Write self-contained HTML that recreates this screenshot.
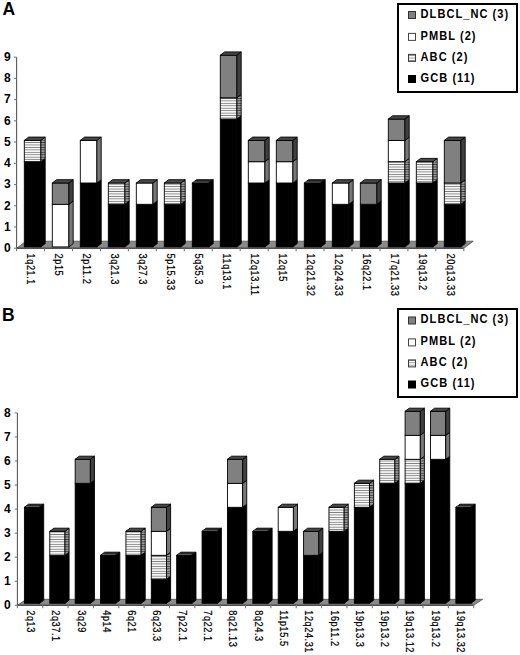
<!DOCTYPE html>
<html><head><meta charset="utf-8"><style>
html,body{margin:0;padding:0;background:#fff;width:520px;height:655px;overflow:hidden}
svg{display:block}
text{font-family:"Liberation Sans",sans-serif;font-weight:bold;fill:#000}
.yl{font-size:12px;text-anchor:end}
.xl{font-size:10px;font-weight:normal;stroke:#000;stroke-width:0.22px;letter-spacing:0.6px}
.lg{font-size:12.3px;letter-spacing:1.15px}
.pl{font-size:17.5px}
</style></head><body>
<svg width="520" height="655" viewBox="0 0 520 655">
<defs>
<pattern id="st" patternUnits="userSpaceOnUse" width="4" height="2.45"><rect width="4" height="2.45" fill="#f6f6f6"/><rect width="4" height="0.8" fill="#7a7a7a"/></pattern>
<pattern id="sts" patternUnits="userSpaceOnUse" width="4" height="2.45"><rect width="4" height="2.45" fill="#999"/><rect width="4" height="0.8" fill="#3a3a3a"/></pattern>
<pattern id="stl" patternUnits="userSpaceOnUse" width="4" height="2.4"><rect width="4" height="2.4" fill="#fafafa"/><rect width="4" height="0.8" fill="#888"/></pattern>
</defs>
<rect width="520" height="655" fill="#fff"/>
<polygon points="16.6,248.2 463.8,248.2 473.3,241.2 26.1,241.2" fill="#8a8a8a" stroke="#444" stroke-width="0.7"/>
<line x1="16.6" y1="57.13" x2="16.6" y2="248.2" stroke="#5a5a5a" stroke-width="1.1"/>
<line x1="14" y1="248.2" x2="16.6" y2="248.2" stroke="#777" stroke-width="1.1"/>
<text x="10.6" y="252" class="yl">0</text>
<line x1="14" y1="226.97" x2="16.6" y2="226.97" stroke="#777" stroke-width="1.1"/>
<text x="10.6" y="230.77" class="yl">1</text>
<line x1="14" y1="205.74" x2="16.6" y2="205.74" stroke="#777" stroke-width="1.1"/>
<text x="10.6" y="209.54" class="yl">2</text>
<line x1="14" y1="184.51" x2="16.6" y2="184.51" stroke="#777" stroke-width="1.1"/>
<text x="10.6" y="188.31" class="yl">3</text>
<line x1="14" y1="163.28" x2="16.6" y2="163.28" stroke="#777" stroke-width="1.1"/>
<text x="10.6" y="167.08" class="yl">4</text>
<line x1="14" y1="142.05" x2="16.6" y2="142.05" stroke="#777" stroke-width="1.1"/>
<text x="10.6" y="145.85" class="yl">5</text>
<line x1="14" y1="120.82" x2="16.6" y2="120.82" stroke="#777" stroke-width="1.1"/>
<text x="10.6" y="124.62" class="yl">6</text>
<line x1="14" y1="99.59" x2="16.6" y2="99.59" stroke="#777" stroke-width="1.1"/>
<text x="10.6" y="103.39" class="yl">7</text>
<line x1="14" y1="78.36" x2="16.6" y2="78.36" stroke="#777" stroke-width="1.1"/>
<text x="10.6" y="82.16" class="yl">8</text>
<line x1="14" y1="57.13" x2="16.6" y2="57.13" stroke="#777" stroke-width="1.1"/>
<text x="10.6" y="60.93" class="yl">9</text>
<line x1="16.6" y1="248.2" x2="463.8" y2="248.2" stroke="#3a3a3a" stroke-width="1.1"/>
<line x1="16.6" y1="248.2" x2="16.6" y2="251.2" stroke="#777" stroke-width="1.1"/>
<line x1="44.55" y1="248.2" x2="44.55" y2="251.2" stroke="#777" stroke-width="1.1"/>
<line x1="72.5" y1="248.2" x2="72.5" y2="251.2" stroke="#777" stroke-width="1.1"/>
<line x1="100.45" y1="248.2" x2="100.45" y2="251.2" stroke="#777" stroke-width="1.1"/>
<line x1="128.4" y1="248.2" x2="128.4" y2="251.2" stroke="#777" stroke-width="1.1"/>
<line x1="156.35" y1="248.2" x2="156.35" y2="251.2" stroke="#777" stroke-width="1.1"/>
<line x1="184.3" y1="248.2" x2="184.3" y2="251.2" stroke="#777" stroke-width="1.1"/>
<line x1="212.25" y1="248.2" x2="212.25" y2="251.2" stroke="#777" stroke-width="1.1"/>
<line x1="240.2" y1="248.2" x2="240.2" y2="251.2" stroke="#777" stroke-width="1.1"/>
<line x1="268.15" y1="248.2" x2="268.15" y2="251.2" stroke="#777" stroke-width="1.1"/>
<line x1="296.1" y1="248.2" x2="296.1" y2="251.2" stroke="#777" stroke-width="1.1"/>
<line x1="324.05" y1="248.2" x2="324.05" y2="251.2" stroke="#777" stroke-width="1.1"/>
<line x1="352" y1="248.2" x2="352" y2="251.2" stroke="#777" stroke-width="1.1"/>
<line x1="379.95" y1="248.2" x2="379.95" y2="251.2" stroke="#777" stroke-width="1.1"/>
<line x1="407.9" y1="248.2" x2="407.9" y2="251.2" stroke="#777" stroke-width="1.1"/>
<line x1="435.85" y1="248.2" x2="435.85" y2="251.2" stroke="#777" stroke-width="1.1"/>
<line x1="463.8" y1="248.2" x2="463.8" y2="251.2" stroke="#777" stroke-width="1.1"/>
<rect x="24.3" y="161.7" width="16.6" height="85.2" fill="#000" stroke="#000" stroke-width="0.9"/>
<polygon points="40.9,246.9 45.2,243.6 45.2,158.4 40.9,161.7" fill="#000" stroke="#000" stroke-width="0.9"/>
<rect x="24.3" y="140.4" width="16.6" height="21.3" fill="url(#st)" stroke="#000" stroke-width="0.9"/>
<polygon points="40.9,161.7 45.2,158.4 45.2,137.1 40.9,140.4" fill="url(#sts)" stroke="#000" stroke-width="0.9"/>
<polygon points="24.3,140.4 28.6,137.1 45.2,137.1 40.9,140.4" fill="#4a4a4a" stroke="#000" stroke-width="0.9"/>
<text transform="translate(27.48,253.6) rotate(90) scale(0.92,1)" class="xl">1q21.1</text>
<rect x="52.3" y="204.3" width="16.6" height="42.6" fill="#fff" stroke="#000" stroke-width="0.9"/>
<polygon points="68.9,246.9 73.2,243.6 73.2,201 68.9,204.3" fill="#787878" stroke="#000" stroke-width="0.9"/>
<rect x="52.3" y="183" width="16.6" height="21.3" fill="#808080" stroke="#000" stroke-width="0.9"/>
<polygon points="68.9,204.3 73.2,201 73.2,179.7 68.9,183" fill="#404040" stroke="#000" stroke-width="0.9"/>
<polygon points="52.3,183 56.6,179.7 73.2,179.7 68.9,183" fill="#484848" stroke="#000" stroke-width="0.9"/>
<text transform="translate(55.42,253.6) rotate(90) scale(0.92,1)" class="xl">2p15</text>
<rect x="80.3" y="183" width="16.6" height="63.9" fill="#000" stroke="#000" stroke-width="0.9"/>
<polygon points="96.9,246.9 101.2,243.6 101.2,179.7 96.9,183" fill="#000" stroke="#000" stroke-width="0.9"/>
<rect x="80.3" y="140.4" width="16.6" height="42.6" fill="#fff" stroke="#000" stroke-width="0.9"/>
<polygon points="96.9,183 101.2,179.7 101.2,137.1 96.9,140.4" fill="#787878" stroke="#000" stroke-width="0.9"/>
<polygon points="80.3,140.4 84.6,137.1 101.2,137.1 96.9,140.4" fill="#4a4a4a" stroke="#000" stroke-width="0.9"/>
<text transform="translate(83.38,253.6) rotate(90) scale(0.92,1)" class="xl">2p11.2</text>
<rect x="108.3" y="204.3" width="16.6" height="42.6" fill="#000" stroke="#000" stroke-width="0.9"/>
<polygon points="124.9,246.9 129.2,243.6 129.2,201 124.9,204.3" fill="#000" stroke="#000" stroke-width="0.9"/>
<rect x="108.3" y="183" width="16.6" height="21.3" fill="url(#st)" stroke="#000" stroke-width="0.9"/>
<polygon points="124.9,204.3 129.2,201 129.2,179.7 124.9,183" fill="url(#sts)" stroke="#000" stroke-width="0.9"/>
<polygon points="108.3,183 112.6,179.7 129.2,179.7 124.9,183" fill="#4a4a4a" stroke="#000" stroke-width="0.9"/>
<text transform="translate(111.33,253.6) rotate(90) scale(0.92,1)" class="xl">3q21.3</text>
<rect x="136.3" y="204.3" width="16.6" height="42.6" fill="#000" stroke="#000" stroke-width="0.9"/>
<polygon points="152.9,246.9 157.2,243.6 157.2,201 152.9,204.3" fill="#000" stroke="#000" stroke-width="0.9"/>
<rect x="136.3" y="183" width="16.6" height="21.3" fill="#fff" stroke="#000" stroke-width="0.9"/>
<polygon points="152.9,204.3 157.2,201 157.2,179.7 152.9,183" fill="#787878" stroke="#000" stroke-width="0.9"/>
<polygon points="136.3,183 140.6,179.7 157.2,179.7 152.9,183" fill="#4a4a4a" stroke="#000" stroke-width="0.9"/>
<text transform="translate(139.28,253.6) rotate(90) scale(0.92,1)" class="xl">3q27.3</text>
<rect x="164.3" y="204.3" width="16.6" height="42.6" fill="#000" stroke="#000" stroke-width="0.9"/>
<polygon points="180.9,246.9 185.2,243.6 185.2,201 180.9,204.3" fill="#000" stroke="#000" stroke-width="0.9"/>
<rect x="164.3" y="183" width="16.6" height="21.3" fill="url(#st)" stroke="#000" stroke-width="0.9"/>
<polygon points="180.9,204.3 185.2,201 185.2,179.7 180.9,183" fill="url(#sts)" stroke="#000" stroke-width="0.9"/>
<polygon points="164.3,183 168.6,179.7 185.2,179.7 180.9,183" fill="#4a4a4a" stroke="#000" stroke-width="0.9"/>
<text transform="translate(167.22,253.6) rotate(90) scale(0.92,1)" class="xl">5p15.33</text>
<rect x="192.3" y="183" width="16.6" height="63.9" fill="#000" stroke="#000" stroke-width="0.9"/>
<polygon points="208.9,246.9 213.2,243.6 213.2,179.7 208.9,183" fill="#000" stroke="#000" stroke-width="0.9"/>
<polygon points="192.3,183 196.6,179.7 213.2,179.7 208.9,183" fill="#262626" stroke="#000" stroke-width="0.9"/>
<line x1="193.5" y1="182.1" x2="208.6" y2="182.1" stroke="#6a6a6a" stroke-width="0.8"/>
<text transform="translate(195.17,253.6) rotate(90) scale(0.92,1)" class="xl">5q35.3</text>
<rect x="220.3" y="119.1" width="16.6" height="127.8" fill="#000" stroke="#000" stroke-width="0.9"/>
<polygon points="236.9,246.9 241.2,243.6 241.2,115.8 236.9,119.1" fill="#000" stroke="#000" stroke-width="0.9"/>
<rect x="220.3" y="97.8" width="16.6" height="21.3" fill="url(#st)" stroke="#000" stroke-width="0.9"/>
<polygon points="236.9,119.1 241.2,115.8 241.2,94.5 236.9,97.8" fill="url(#sts)" stroke="#000" stroke-width="0.9"/>
<rect x="220.3" y="55.2" width="16.6" height="42.6" fill="#808080" stroke="#000" stroke-width="0.9"/>
<polygon points="236.9,97.8 241.2,94.5 241.2,51.9 236.9,55.2" fill="#404040" stroke="#000" stroke-width="0.9"/>
<polygon points="220.3,55.2 224.6,51.9 241.2,51.9 236.9,55.2" fill="#484848" stroke="#000" stroke-width="0.9"/>
<text transform="translate(223.12,253.6) rotate(90) scale(0.92,1)" class="xl">11q13.1</text>
<rect x="248.3" y="183" width="16.6" height="63.9" fill="#000" stroke="#000" stroke-width="0.9"/>
<polygon points="264.9,246.9 269.2,243.6 269.2,179.7 264.9,183" fill="#000" stroke="#000" stroke-width="0.9"/>
<rect x="248.3" y="161.7" width="16.6" height="21.3" fill="#fff" stroke="#000" stroke-width="0.9"/>
<polygon points="264.9,183 269.2,179.7 269.2,158.4 264.9,161.7" fill="#787878" stroke="#000" stroke-width="0.9"/>
<rect x="248.3" y="140.4" width="16.6" height="21.3" fill="#808080" stroke="#000" stroke-width="0.9"/>
<polygon points="264.9,161.7 269.2,158.4 269.2,137.1 264.9,140.4" fill="#404040" stroke="#000" stroke-width="0.9"/>
<polygon points="248.3,140.4 252.6,137.1 269.2,137.1 264.9,140.4" fill="#484848" stroke="#000" stroke-width="0.9"/>
<text transform="translate(251.07,253.6) rotate(90) scale(0.92,1)" class="xl">12q13.11</text>
<rect x="276.3" y="183" width="16.6" height="63.9" fill="#000" stroke="#000" stroke-width="0.9"/>
<polygon points="292.9,246.9 297.2,243.6 297.2,179.7 292.9,183" fill="#000" stroke="#000" stroke-width="0.9"/>
<rect x="276.3" y="161.7" width="16.6" height="21.3" fill="#fff" stroke="#000" stroke-width="0.9"/>
<polygon points="292.9,183 297.2,179.7 297.2,158.4 292.9,161.7" fill="#787878" stroke="#000" stroke-width="0.9"/>
<rect x="276.3" y="140.4" width="16.6" height="21.3" fill="#808080" stroke="#000" stroke-width="0.9"/>
<polygon points="292.9,161.7 297.2,158.4 297.2,137.1 292.9,140.4" fill="#404040" stroke="#000" stroke-width="0.9"/>
<polygon points="276.3,140.4 280.6,137.1 297.2,137.1 292.9,140.4" fill="#484848" stroke="#000" stroke-width="0.9"/>
<text transform="translate(279.02,253.6) rotate(90) scale(0.92,1)" class="xl">12q15</text>
<rect x="304.3" y="183" width="16.6" height="63.9" fill="#000" stroke="#000" stroke-width="0.9"/>
<polygon points="320.9,246.9 325.2,243.6 325.2,179.7 320.9,183" fill="#000" stroke="#000" stroke-width="0.9"/>
<polygon points="304.3,183 308.6,179.7 325.2,179.7 320.9,183" fill="#262626" stroke="#000" stroke-width="0.9"/>
<line x1="305.5" y1="182.1" x2="320.6" y2="182.1" stroke="#6a6a6a" stroke-width="0.8"/>
<text transform="translate(306.97,253.6) rotate(90) scale(0.92,1)" class="xl">12q21.32</text>
<rect x="332.3" y="204.3" width="16.6" height="42.6" fill="#000" stroke="#000" stroke-width="0.9"/>
<polygon points="348.9,246.9 353.2,243.6 353.2,201 348.9,204.3" fill="#000" stroke="#000" stroke-width="0.9"/>
<rect x="332.3" y="183" width="16.6" height="21.3" fill="#fff" stroke="#000" stroke-width="0.9"/>
<polygon points="348.9,204.3 353.2,201 353.2,179.7 348.9,183" fill="#787878" stroke="#000" stroke-width="0.9"/>
<polygon points="332.3,183 336.6,179.7 353.2,179.7 348.9,183" fill="#4a4a4a" stroke="#000" stroke-width="0.9"/>
<text transform="translate(334.93,253.6) rotate(90) scale(0.92,1)" class="xl">12q24.33</text>
<rect x="360.3" y="204.3" width="16.6" height="42.6" fill="#000" stroke="#000" stroke-width="0.9"/>
<polygon points="376.9,246.9 381.2,243.6 381.2,201 376.9,204.3" fill="#000" stroke="#000" stroke-width="0.9"/>
<rect x="360.3" y="183" width="16.6" height="21.3" fill="#808080" stroke="#000" stroke-width="0.9"/>
<polygon points="376.9,204.3 381.2,201 381.2,179.7 376.9,183" fill="#404040" stroke="#000" stroke-width="0.9"/>
<polygon points="360.3,183 364.6,179.7 381.2,179.7 376.9,183" fill="#484848" stroke="#000" stroke-width="0.9"/>
<text transform="translate(362.88,253.6) rotate(90) scale(0.92,1)" class="xl">16q22.1</text>
<rect x="388.3" y="183" width="16.6" height="63.9" fill="#000" stroke="#000" stroke-width="0.9"/>
<polygon points="404.9,246.9 409.2,243.6 409.2,179.7 404.9,183" fill="#000" stroke="#000" stroke-width="0.9"/>
<rect x="388.3" y="161.7" width="16.6" height="21.3" fill="url(#st)" stroke="#000" stroke-width="0.9"/>
<polygon points="404.9,183 409.2,179.7 409.2,158.4 404.9,161.7" fill="url(#sts)" stroke="#000" stroke-width="0.9"/>
<rect x="388.3" y="140.4" width="16.6" height="21.3" fill="#fff" stroke="#000" stroke-width="0.9"/>
<polygon points="404.9,161.7 409.2,158.4 409.2,137.1 404.9,140.4" fill="#787878" stroke="#000" stroke-width="0.9"/>
<rect x="388.3" y="119.1" width="16.6" height="21.3" fill="#808080" stroke="#000" stroke-width="0.9"/>
<polygon points="404.9,140.4 409.2,137.1 409.2,115.8 404.9,119.1" fill="#404040" stroke="#000" stroke-width="0.9"/>
<polygon points="388.3,119.1 392.6,115.8 409.2,115.8 404.9,119.1" fill="#484848" stroke="#000" stroke-width="0.9"/>
<text transform="translate(390.82,253.6) rotate(90) scale(0.92,1)" class="xl">17q21.33</text>
<rect x="416.3" y="183" width="16.6" height="63.9" fill="#000" stroke="#000" stroke-width="0.9"/>
<polygon points="432.9,246.9 437.2,243.6 437.2,179.7 432.9,183" fill="#000" stroke="#000" stroke-width="0.9"/>
<rect x="416.3" y="161.7" width="16.6" height="21.3" fill="url(#st)" stroke="#000" stroke-width="0.9"/>
<polygon points="432.9,183 437.2,179.7 437.2,158.4 432.9,161.7" fill="url(#sts)" stroke="#000" stroke-width="0.9"/>
<polygon points="416.3,161.7 420.6,158.4 437.2,158.4 432.9,161.7" fill="#4a4a4a" stroke="#000" stroke-width="0.9"/>
<text transform="translate(418.77,253.6) rotate(90) scale(0.92,1)" class="xl">19q13.2</text>
<rect x="444.3" y="204.3" width="16.6" height="42.6" fill="#000" stroke="#000" stroke-width="0.9"/>
<polygon points="460.9,246.9 465.2,243.6 465.2,201 460.9,204.3" fill="#000" stroke="#000" stroke-width="0.9"/>
<rect x="444.3" y="183" width="16.6" height="21.3" fill="url(#st)" stroke="#000" stroke-width="0.9"/>
<polygon points="460.9,204.3 465.2,201 465.2,179.7 460.9,183" fill="url(#sts)" stroke="#000" stroke-width="0.9"/>
<rect x="444.3" y="140.4" width="16.6" height="42.6" fill="#808080" stroke="#000" stroke-width="0.9"/>
<polygon points="460.9,183 465.2,179.7 465.2,137.1 460.9,140.4" fill="#404040" stroke="#000" stroke-width="0.9"/>
<polygon points="444.3,140.4 448.6,137.1 465.2,137.1 460.9,140.4" fill="#484848" stroke="#000" stroke-width="0.9"/>
<text transform="translate(446.72,253.6) rotate(90) scale(0.92,1)" class="xl">20q13.33</text>
<rect x="398" y="4" width="119" height="88" fill="#fff" stroke="#000" stroke-width="2"/>
<rect x="408.5" y="11.5" width="7" height="7" fill="#808080" stroke="#333" stroke-width="1"/>
<text transform="translate(420.6,17.6) scale(0.9,1)" class="lg">DLBCL_NC (3)</text>
<rect x="408.5" y="33.4" width="7" height="7" fill="#fff" stroke="#444" stroke-width="1"/>
<text transform="translate(420.6,39.5) scale(0.9,1)" class="lg">PMBL (2)</text>
<rect x="408.5" y="54.4" width="7" height="7" fill="url(#stl)" stroke="#3a3a3a" stroke-width="1"/>
<text transform="translate(420.6,60.5) scale(0.9,1)" class="lg">ABC (2)</text>
<rect x="408.5" y="75.5" width="7" height="7" fill="#000" stroke="#000" stroke-width="1"/>
<text transform="translate(420.6,81.6) scale(0.9,1)" class="lg">GCB (11)</text>
<text x="2.5" y="14.7" class="pl">A</text>
<polygon points="17.4,605.3 473.7,605.3 482.7,599.3 26.4,599.3" fill="#8a8a8a" stroke="#444" stroke-width="0.7"/>
<line x1="17.4" y1="412.9" x2="17.4" y2="605.3" stroke="#5a5a5a" stroke-width="1.1"/>
<line x1="14.8" y1="605.3" x2="17.4" y2="605.3" stroke="#777" stroke-width="1.1"/>
<text x="10.6" y="609.1" class="yl">0</text>
<line x1="14.8" y1="581.25" x2="17.4" y2="581.25" stroke="#777" stroke-width="1.1"/>
<text x="10.6" y="585.05" class="yl">1</text>
<line x1="14.8" y1="557.2" x2="17.4" y2="557.2" stroke="#777" stroke-width="1.1"/>
<text x="10.6" y="561" class="yl">2</text>
<line x1="14.8" y1="533.15" x2="17.4" y2="533.15" stroke="#777" stroke-width="1.1"/>
<text x="10.6" y="536.95" class="yl">3</text>
<line x1="14.8" y1="509.1" x2="17.4" y2="509.1" stroke="#777" stroke-width="1.1"/>
<text x="10.6" y="512.9" class="yl">4</text>
<line x1="14.8" y1="485.05" x2="17.4" y2="485.05" stroke="#777" stroke-width="1.1"/>
<text x="10.6" y="488.85" class="yl">5</text>
<line x1="14.8" y1="461" x2="17.4" y2="461" stroke="#777" stroke-width="1.1"/>
<text x="10.6" y="464.8" class="yl">6</text>
<line x1="14.8" y1="436.95" x2="17.4" y2="436.95" stroke="#777" stroke-width="1.1"/>
<text x="10.6" y="440.75" class="yl">7</text>
<line x1="14.8" y1="412.9" x2="17.4" y2="412.9" stroke="#777" stroke-width="1.1"/>
<text x="10.6" y="416.7" class="yl">8</text>
<line x1="17.4" y1="605.3" x2="473.7" y2="605.3" stroke="#3a3a3a" stroke-width="1.1"/>
<line x1="17.4" y1="605.3" x2="17.4" y2="608.3" stroke="#777" stroke-width="1.1"/>
<line x1="42.75" y1="605.3" x2="42.75" y2="608.3" stroke="#777" stroke-width="1.1"/>
<line x1="68.1" y1="605.3" x2="68.1" y2="608.3" stroke="#777" stroke-width="1.1"/>
<line x1="93.45" y1="605.3" x2="93.45" y2="608.3" stroke="#777" stroke-width="1.1"/>
<line x1="118.8" y1="605.3" x2="118.8" y2="608.3" stroke="#777" stroke-width="1.1"/>
<line x1="144.15" y1="605.3" x2="144.15" y2="608.3" stroke="#777" stroke-width="1.1"/>
<line x1="169.5" y1="605.3" x2="169.5" y2="608.3" stroke="#777" stroke-width="1.1"/>
<line x1="194.85" y1="605.3" x2="194.85" y2="608.3" stroke="#777" stroke-width="1.1"/>
<line x1="220.2" y1="605.3" x2="220.2" y2="608.3" stroke="#777" stroke-width="1.1"/>
<line x1="245.55" y1="605.3" x2="245.55" y2="608.3" stroke="#777" stroke-width="1.1"/>
<line x1="270.9" y1="605.3" x2="270.9" y2="608.3" stroke="#777" stroke-width="1.1"/>
<line x1="296.25" y1="605.3" x2="296.25" y2="608.3" stroke="#777" stroke-width="1.1"/>
<line x1="321.6" y1="605.3" x2="321.6" y2="608.3" stroke="#777" stroke-width="1.1"/>
<line x1="346.95" y1="605.3" x2="346.95" y2="608.3" stroke="#777" stroke-width="1.1"/>
<line x1="372.3" y1="605.3" x2="372.3" y2="608.3" stroke="#777" stroke-width="1.1"/>
<line x1="397.65" y1="605.3" x2="397.65" y2="608.3" stroke="#777" stroke-width="1.1"/>
<line x1="423" y1="605.3" x2="423" y2="608.3" stroke="#777" stroke-width="1.1"/>
<line x1="448.35" y1="605.3" x2="448.35" y2="608.3" stroke="#777" stroke-width="1.1"/>
<line x1="473.7" y1="605.3" x2="473.7" y2="608.3" stroke="#777" stroke-width="1.1"/>
<rect x="24.4" y="507.3" width="15.2" height="96" fill="#000" stroke="#000" stroke-width="0.9"/>
<polygon points="39.6,603.3 43.7,600.2 43.7,504.2 39.6,507.3" fill="#000" stroke="#000" stroke-width="0.9"/>
<polygon points="24.4,507.3 28.5,504.2 43.7,504.2 39.6,507.3" fill="#262626" stroke="#000" stroke-width="0.9"/>
<line x1="25.6" y1="506.4" x2="39.3" y2="506.4" stroke="#6a6a6a" stroke-width="0.8"/>
<text transform="translate(26.95,610.3) rotate(90) scale(0.92,1)" class="xl">2q13</text>
<rect x="49.78" y="555.3" width="15.2" height="48" fill="#000" stroke="#000" stroke-width="0.9"/>
<polygon points="64.98,603.3 69.08,600.2 69.08,552.2 64.98,555.3" fill="#000" stroke="#000" stroke-width="0.9"/>
<rect x="49.78" y="531.3" width="15.2" height="24" fill="url(#st)" stroke="#000" stroke-width="0.9"/>
<polygon points="64.98,555.3 69.08,552.2 69.08,528.2 64.98,531.3" fill="url(#sts)" stroke="#000" stroke-width="0.9"/>
<polygon points="49.78,531.3 53.88,528.2 69.08,528.2 64.98,531.3" fill="#4a4a4a" stroke="#000" stroke-width="0.9"/>
<text transform="translate(52.25,610.3) rotate(90) scale(0.92,1)" class="xl">2q37.1</text>
<rect x="75.16" y="483.3" width="15.2" height="120" fill="#000" stroke="#000" stroke-width="0.9"/>
<polygon points="90.36,603.3 94.46,600.2 94.46,480.2 90.36,483.3" fill="#000" stroke="#000" stroke-width="0.9"/>
<rect x="75.16" y="459.3" width="15.2" height="24" fill="#808080" stroke="#000" stroke-width="0.9"/>
<polygon points="90.36,483.3 94.46,480.2 94.46,456.2 90.36,459.3" fill="#404040" stroke="#000" stroke-width="0.9"/>
<polygon points="75.16,459.3 79.26,456.2 94.46,456.2 90.36,459.3" fill="#484848" stroke="#000" stroke-width="0.9"/>
<text transform="translate(77.55,610.3) rotate(90) scale(0.92,1)" class="xl">3q29</text>
<rect x="100.54" y="555.3" width="15.2" height="48" fill="#000" stroke="#000" stroke-width="0.9"/>
<polygon points="115.74,603.3 119.84,600.2 119.84,552.2 115.74,555.3" fill="#000" stroke="#000" stroke-width="0.9"/>
<polygon points="100.54,555.3 104.64,552.2 119.84,552.2 115.74,555.3" fill="#262626" stroke="#000" stroke-width="0.9"/>
<line x1="101.74" y1="554.4" x2="115.44" y2="554.4" stroke="#6a6a6a" stroke-width="0.8"/>
<text transform="translate(102.85,610.3) rotate(90) scale(0.92,1)" class="xl">4p14</text>
<rect x="125.92" y="555.3" width="15.2" height="48" fill="#000" stroke="#000" stroke-width="0.9"/>
<polygon points="141.12,603.3 145.22,600.2 145.22,552.2 141.12,555.3" fill="#000" stroke="#000" stroke-width="0.9"/>
<rect x="125.92" y="531.3" width="15.2" height="24" fill="url(#st)" stroke="#000" stroke-width="0.9"/>
<polygon points="141.12,555.3 145.22,552.2 145.22,528.2 141.12,531.3" fill="url(#sts)" stroke="#000" stroke-width="0.9"/>
<polygon points="125.92,531.3 130.02,528.2 145.22,528.2 141.12,531.3" fill="#4a4a4a" stroke="#000" stroke-width="0.9"/>
<text transform="translate(128.15,610.3) rotate(90) scale(0.92,1)" class="xl">6q21</text>
<rect x="151.3" y="579.3" width="15.2" height="24" fill="#000" stroke="#000" stroke-width="0.9"/>
<polygon points="166.5,603.3 170.6,600.2 170.6,576.2 166.5,579.3" fill="#000" stroke="#000" stroke-width="0.9"/>
<rect x="151.3" y="555.3" width="15.2" height="24" fill="url(#st)" stroke="#000" stroke-width="0.9"/>
<polygon points="166.5,579.3 170.6,576.2 170.6,552.2 166.5,555.3" fill="url(#sts)" stroke="#000" stroke-width="0.9"/>
<rect x="151.3" y="531.3" width="15.2" height="24" fill="#fff" stroke="#000" stroke-width="0.9"/>
<polygon points="166.5,555.3 170.6,552.2 170.6,528.2 166.5,531.3" fill="#787878" stroke="#000" stroke-width="0.9"/>
<rect x="151.3" y="507.3" width="15.2" height="24" fill="#808080" stroke="#000" stroke-width="0.9"/>
<polygon points="166.5,531.3 170.6,528.2 170.6,504.2 166.5,507.3" fill="#404040" stroke="#000" stroke-width="0.9"/>
<polygon points="151.3,507.3 155.4,504.2 170.6,504.2 166.5,507.3" fill="#484848" stroke="#000" stroke-width="0.9"/>
<text transform="translate(153.45,610.3) rotate(90) scale(0.92,1)" class="xl">6q23.3</text>
<rect x="176.68" y="555.3" width="15.2" height="48" fill="#000" stroke="#000" stroke-width="0.9"/>
<polygon points="191.88,603.3 195.98,600.2 195.98,552.2 191.88,555.3" fill="#000" stroke="#000" stroke-width="0.9"/>
<polygon points="176.68,555.3 180.78,552.2 195.98,552.2 191.88,555.3" fill="#262626" stroke="#000" stroke-width="0.9"/>
<line x1="177.88" y1="554.4" x2="191.58" y2="554.4" stroke="#6a6a6a" stroke-width="0.8"/>
<text transform="translate(178.75,610.3) rotate(90) scale(0.92,1)" class="xl">7p22.1</text>
<rect x="202.06" y="531.3" width="15.2" height="72" fill="#000" stroke="#000" stroke-width="0.9"/>
<polygon points="217.26,603.3 221.36,600.2 221.36,528.2 217.26,531.3" fill="#000" stroke="#000" stroke-width="0.9"/>
<polygon points="202.06,531.3 206.16,528.2 221.36,528.2 217.26,531.3" fill="#262626" stroke="#000" stroke-width="0.9"/>
<line x1="203.26" y1="530.4" x2="216.96" y2="530.4" stroke="#6a6a6a" stroke-width="0.8"/>
<text transform="translate(204.05,610.3) rotate(90) scale(0.92,1)" class="xl">7q22.1</text>
<rect x="227.44" y="507.3" width="15.2" height="96" fill="#000" stroke="#000" stroke-width="0.9"/>
<polygon points="242.64,603.3 246.74,600.2 246.74,504.2 242.64,507.3" fill="#000" stroke="#000" stroke-width="0.9"/>
<rect x="227.44" y="483.3" width="15.2" height="24" fill="#fff" stroke="#000" stroke-width="0.9"/>
<polygon points="242.64,507.3 246.74,504.2 246.74,480.2 242.64,483.3" fill="#787878" stroke="#000" stroke-width="0.9"/>
<rect x="227.44" y="459.3" width="15.2" height="24" fill="#808080" stroke="#000" stroke-width="0.9"/>
<polygon points="242.64,483.3 246.74,480.2 246.74,456.2 242.64,459.3" fill="#404040" stroke="#000" stroke-width="0.9"/>
<polygon points="227.44,459.3 231.54,456.2 246.74,456.2 242.64,459.3" fill="#484848" stroke="#000" stroke-width="0.9"/>
<text transform="translate(229.35,610.3) rotate(90) scale(0.92,1)" class="xl">8q21.13</text>
<rect x="252.82" y="531.3" width="15.2" height="72" fill="#000" stroke="#000" stroke-width="0.9"/>
<polygon points="268.02,603.3 272.12,600.2 272.12,528.2 268.02,531.3" fill="#000" stroke="#000" stroke-width="0.9"/>
<polygon points="252.82,531.3 256.92,528.2 272.12,528.2 268.02,531.3" fill="#262626" stroke="#000" stroke-width="0.9"/>
<line x1="254.02" y1="530.4" x2="267.72" y2="530.4" stroke="#6a6a6a" stroke-width="0.8"/>
<text transform="translate(254.65,610.3) rotate(90) scale(0.92,1)" class="xl">8q24.3</text>
<rect x="278.2" y="531.3" width="15.2" height="72" fill="#000" stroke="#000" stroke-width="0.9"/>
<polygon points="293.4,603.3 297.5,600.2 297.5,528.2 293.4,531.3" fill="#000" stroke="#000" stroke-width="0.9"/>
<rect x="278.2" y="507.3" width="15.2" height="24" fill="#fff" stroke="#000" stroke-width="0.9"/>
<polygon points="293.4,531.3 297.5,528.2 297.5,504.2 293.4,507.3" fill="#787878" stroke="#000" stroke-width="0.9"/>
<polygon points="278.2,507.3 282.3,504.2 297.5,504.2 293.4,507.3" fill="#4a4a4a" stroke="#000" stroke-width="0.9"/>
<text transform="translate(279.95,610.3) rotate(90) scale(0.92,1)" class="xl">11p15.5</text>
<rect x="303.58" y="555.3" width="15.2" height="48" fill="#000" stroke="#000" stroke-width="0.9"/>
<polygon points="318.78,603.3 322.88,600.2 322.88,552.2 318.78,555.3" fill="#000" stroke="#000" stroke-width="0.9"/>
<rect x="303.58" y="531.3" width="15.2" height="24" fill="#808080" stroke="#000" stroke-width="0.9"/>
<polygon points="318.78,555.3 322.88,552.2 322.88,528.2 318.78,531.3" fill="#404040" stroke="#000" stroke-width="0.9"/>
<polygon points="303.58,531.3 307.68,528.2 322.88,528.2 318.78,531.3" fill="#484848" stroke="#000" stroke-width="0.9"/>
<text transform="translate(305.25,610.3) rotate(90) scale(0.92,1)" class="xl">12q24.31</text>
<rect x="328.96" y="531.3" width="15.2" height="72" fill="#000" stroke="#000" stroke-width="0.9"/>
<polygon points="344.16,603.3 348.26,600.2 348.26,528.2 344.16,531.3" fill="#000" stroke="#000" stroke-width="0.9"/>
<rect x="328.96" y="507.3" width="15.2" height="24" fill="url(#st)" stroke="#000" stroke-width="0.9"/>
<polygon points="344.16,531.3 348.26,528.2 348.26,504.2 344.16,507.3" fill="url(#sts)" stroke="#000" stroke-width="0.9"/>
<polygon points="328.96,507.3 333.06,504.2 348.26,504.2 344.16,507.3" fill="#4a4a4a" stroke="#000" stroke-width="0.9"/>
<text transform="translate(330.55,610.3) rotate(90) scale(0.92,1)" class="xl">16p11.2</text>
<rect x="354.34" y="507.3" width="15.2" height="96" fill="#000" stroke="#000" stroke-width="0.9"/>
<polygon points="369.54,603.3 373.64,600.2 373.64,504.2 369.54,507.3" fill="#000" stroke="#000" stroke-width="0.9"/>
<rect x="354.34" y="483.3" width="15.2" height="24" fill="url(#st)" stroke="#000" stroke-width="0.9"/>
<polygon points="369.54,507.3 373.64,504.2 373.64,480.2 369.54,483.3" fill="url(#sts)" stroke="#000" stroke-width="0.9"/>
<polygon points="354.34,483.3 358.44,480.2 373.64,480.2 369.54,483.3" fill="#4a4a4a" stroke="#000" stroke-width="0.9"/>
<text transform="translate(355.85,610.3) rotate(90) scale(0.92,1)" class="xl">19p13.3</text>
<rect x="379.72" y="483.3" width="15.2" height="120" fill="#000" stroke="#000" stroke-width="0.9"/>
<polygon points="394.92,603.3 399.02,600.2 399.02,480.2 394.92,483.3" fill="#000" stroke="#000" stroke-width="0.9"/>
<rect x="379.72" y="459.3" width="15.2" height="24" fill="url(#st)" stroke="#000" stroke-width="0.9"/>
<polygon points="394.92,483.3 399.02,480.2 399.02,456.2 394.92,459.3" fill="url(#sts)" stroke="#000" stroke-width="0.9"/>
<polygon points="379.72,459.3 383.82,456.2 399.02,456.2 394.92,459.3" fill="#4a4a4a" stroke="#000" stroke-width="0.9"/>
<text transform="translate(381.15,610.3) rotate(90) scale(0.92,1)" class="xl">19p13.2</text>
<rect x="405.1" y="483.3" width="15.2" height="120" fill="#000" stroke="#000" stroke-width="0.9"/>
<polygon points="420.3,603.3 424.4,600.2 424.4,480.2 420.3,483.3" fill="#000" stroke="#000" stroke-width="0.9"/>
<rect x="405.1" y="459.3" width="15.2" height="24" fill="url(#st)" stroke="#000" stroke-width="0.9"/>
<polygon points="420.3,483.3 424.4,480.2 424.4,456.2 420.3,459.3" fill="url(#sts)" stroke="#000" stroke-width="0.9"/>
<rect x="405.1" y="435.3" width="15.2" height="24" fill="#fff" stroke="#000" stroke-width="0.9"/>
<polygon points="420.3,459.3 424.4,456.2 424.4,432.2 420.3,435.3" fill="#787878" stroke="#000" stroke-width="0.9"/>
<rect x="405.1" y="411.3" width="15.2" height="24" fill="#808080" stroke="#000" stroke-width="0.9"/>
<polygon points="420.3,435.3 424.4,432.2 424.4,408.2 420.3,411.3" fill="#404040" stroke="#000" stroke-width="0.9"/>
<polygon points="405.1,411.3 409.2,408.2 424.4,408.2 420.3,411.3" fill="#484848" stroke="#000" stroke-width="0.9"/>
<text transform="translate(406.45,610.3) rotate(90) scale(0.92,1)" class="xl">19q13.12</text>
<rect x="430.48" y="459.3" width="15.2" height="144" fill="#000" stroke="#000" stroke-width="0.9"/>
<polygon points="445.68,603.3 449.78,600.2 449.78,456.2 445.68,459.3" fill="#000" stroke="#000" stroke-width="0.9"/>
<rect x="430.48" y="435.3" width="15.2" height="24" fill="#fff" stroke="#000" stroke-width="0.9"/>
<polygon points="445.68,459.3 449.78,456.2 449.78,432.2 445.68,435.3" fill="#787878" stroke="#000" stroke-width="0.9"/>
<rect x="430.48" y="411.3" width="15.2" height="24" fill="#808080" stroke="#000" stroke-width="0.9"/>
<polygon points="445.68,435.3 449.78,432.2 449.78,408.2 445.68,411.3" fill="#404040" stroke="#000" stroke-width="0.9"/>
<polygon points="430.48,411.3 434.58,408.2 449.78,408.2 445.68,411.3" fill="#484848" stroke="#000" stroke-width="0.9"/>
<text transform="translate(431.75,610.3) rotate(90) scale(0.92,1)" class="xl">19q13.2</text>
<rect x="455.86" y="507.3" width="15.2" height="96" fill="#000" stroke="#000" stroke-width="0.9"/>
<polygon points="471.06,603.3 475.16,600.2 475.16,504.2 471.06,507.3" fill="#000" stroke="#000" stroke-width="0.9"/>
<polygon points="455.86,507.3 459.96,504.2 475.16,504.2 471.06,507.3" fill="#262626" stroke="#000" stroke-width="0.9"/>
<line x1="457.06" y1="506.4" x2="470.76" y2="506.4" stroke="#6a6a6a" stroke-width="0.8"/>
<text transform="translate(457.05,610.3) rotate(90) scale(0.92,1)" class="xl">19q13.32</text>
<rect x="398" y="309" width="119" height="88" fill="#fff" stroke="#000" stroke-width="2"/>
<rect x="408.5" y="317" width="7" height="7" fill="#808080" stroke="#333" stroke-width="1"/>
<text transform="translate(420.6,323.1) scale(0.9,1)" class="lg">DLBCL_NC (3)</text>
<rect x="408.5" y="338.9" width="7" height="7" fill="#fff" stroke="#444" stroke-width="1"/>
<text transform="translate(420.6,345) scale(0.9,1)" class="lg">PMBL (2)</text>
<rect x="408.5" y="359.9" width="7" height="7" fill="url(#stl)" stroke="#3a3a3a" stroke-width="1"/>
<text transform="translate(420.6,366) scale(0.9,1)" class="lg">ABC (2)</text>
<rect x="408.5" y="381" width="7" height="7" fill="#000" stroke="#000" stroke-width="1"/>
<text transform="translate(420.6,387.1) scale(0.9,1)" class="lg">GCB (11)</text>
<text x="2" y="320.9" class="pl">B</text>
</svg>
</body></html>
